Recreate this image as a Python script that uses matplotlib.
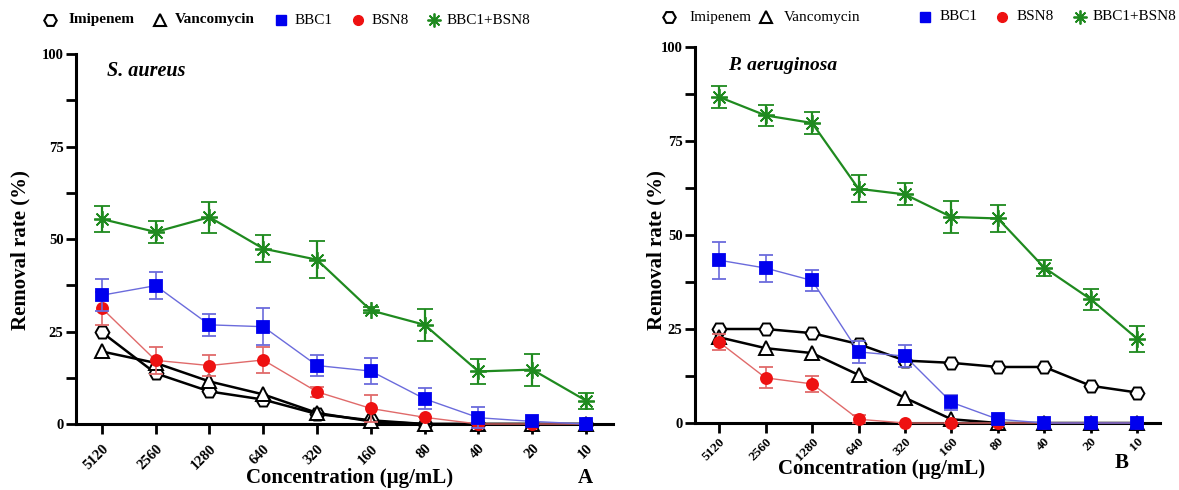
import matplotlib
matplotlib.use("Agg")
import matplotlib.pyplot as plt
from matplotlib.lines import Line2D
from matplotlib.ticker import MultipleLocator
import numpy as np

plt.rcParams['font.family'] = ['Liberation Serif', 'DejaVu Serif']

concentrations = ["5120", "2560", "1280", "640", "320", "160", "80", "40", "20", "10"]
legend_labels = ['Imipenem', 'Vancomycin', 'BBC1', 'BSN8', 'BBC1+BSN8']

# Panel A: S. aureus
imi_A = [24.8, 13.7, 8.8, 6.6, 2.7, 1.0, 0, 0, 0, 0]
van_A = [19.6, 16.5, 11.5, 8.0, 3.0, 0.7, 0, 0, 0, 0]
bbc1_A = [34.8, 37.4, 26.8, 26.3, 15.8, 14.3, 6.8, 1.7, 0.7, 0]
bbc1_A_err = [4.3, 3.6, 2.9, 5.0, 2.8, 3.5, 2.8, 2.8, 0, 0]
bsn8_A = [31.3, 17.2, 15.8, 17.3, 8.7, 4.2, 1.8, 0, 0, 0]
bsn8_A_err = [4.5, 3.7, 2.8, 3.6, 1.4, 3.6, 0, 0, 0, 0]
combo_A = [55.4, 51.9, 55.9, 47.4, 44.4, 30.7, 26.8, 14.2, 14.7, 6.3]
combo_A_err = [3.6, 2.9, 4.2, 3.6, 5.0, 0.8, 4.3, 3.5, 4.3, 2.2]

# Panel B: P. aeruginosa
imi_B = [25.0, 25.0, 23.9, 21.0, 16.6, 16.0, 14.9, 14.9, 9.9, 8.1]
van_B = [22.8, 19.9, 18.6, 12.8, 6.7, 1.0, 0, 0, 0, 0]
bbc1_B = [43.3, 41.2, 37.9, 18.9, 17.8, 5.5, 1.0, 0, 0, 0]
bbc1_B_err = [4.9, 3.6, 2.8, 3.0, 3.0, 2.0, 0, 0, 0, 0]
bsn8_B = [21.5, 12.0, 10.4, 1.0, 0, 0, 0, 0, 0, 0]
bsn8_B_err = [2.2, 2.8, 2.1, 1.0, 0, 0, 0, 0, 0, 0]
combo_B = [86.7, 81.8, 79.8, 62.3, 60.8, 54.8, 54.4, 41.3, 32.9, 22.4]
combo_B_err = [2.9, 2.75, 2.9, 3.6, 2.9, 4.2, 3.5, 2.1, 2.8, 3.5]

GREEN = '#1f8a1f'
BLUE = '#0000ee'
BLUE_L = '#6b6bdc'
RED = '#ee1111'
RED_L = '#e06a6a'
STAR = (8, 2, 0)

W, H = 1179, 490
fig = plt.figure(figsize=(W / 100, H / 100), dpi=100)
axA = fig.add_axes([76/W, 1-424/H, (613-76)/W, (424-54)/H])
axB = fig.add_axes([695/W, 1-423/H, (1160-695)/W, (423-47)/H])


def draw(ax, imi, van, bbc1, bbc1e, bsn8, bsn8e, combo, comboe, xl, tfs, tpad):
    x = np.arange(len(concentrations))
    ax.plot(x, imi, color='black', lw=1.8, marker='H', ms=10, mfc='white',
            mec='black', mew=1.4, clip_on=False, zorder=3)
    ax.plot(x, van, color='black', lw=1.8, marker='^', ms=10, mfc='white',
            mec='black', mew=1.4, clip_on=False, zorder=3)
    series = [
        (bsn8, bsn8e, RED_L, RED, 'o', 8, 1.0, 5, 4),
        (bbc1, bbc1e, BLUE_L, BLUE, 's', 8, 1.0, 5, 5),
        (combo, comboe, GREEN, GREEN, STAR, 12, 1.6, 6, 6),
    ]
    for y, ye, lc, mc, mk, ms, lw, cap, z in series:
        e = ax.errorbar(x, y, yerr=ye, color=lc, lw=lw, marker=mk, ms=ms,
                        mfc=mc, mec=mc, mew=1.3, ecolor=lc, elinewidth=max(lw, 1.2),
                        capsize=cap, capthick=max(lw, 1.2), clip_on=False, zorder=z)
        for a in e.lines[2] + e.lines[1]:
            a.set_clip_on(False)
    ax.set_xlim(*xl)
    ax.set_ylim(0, 100)
    ax.yaxis.set_major_locator(MultipleLocator(25))
    ax.yaxis.set_minor_locator(MultipleLocator(12.5))
    ax.set_xticks(x)
    ax.set_xticklabels(concentrations, rotation=45, ha='right', rotation_mode='anchor',
                       fontsize=tfs, fontweight='bold')
    for lab in ax.get_yticklabels():
        lab.set_fontweight('bold')
        lab.set_fontsize(10.5)
    for s in ['top', 'right']:
        ax.spines[s].set_visible(False)
    for s in ['left', 'bottom']:
        ax.spines[s].set_linewidth(2.2)
    ax.tick_params(axis='both', which='major', direction='out', length=7, width=2.0, pad=2)
    ax.tick_params(axis='y', which='minor', direction='out', length=7, width=2.0)
    ax.tick_params(axis='x', which='major', pad=tpad)
    ax.set_ylabel('Removal rate (%)', fontsize=15, fontweight='bold')


draw(axA, imi_A, van_A, bbc1_A, bbc1_A_err, bsn8_A, bsn8_A_err, combo_A, combo_A_err,
     (-0.48, 9.5), 10.5, 6)
draw(axB, imi_B, van_B, bbc1_B, bbc1_B_err, bsn8_B, bsn8_B_err, combo_B, combo_B_err,
     (-0.52, 9.49), 9.5, 2)

axA.yaxis.set_label_coords(-0.085, 0.47)
axB.yaxis.set_label_coords(-0.062, 0.46)

axA.text(0.058, 0.955, 'S. aureus', transform=axA.transAxes, fontsize=14.5,
         fontweight='bold', fontstyle='italic', va='center', ha='left')
axB.text(0.07, 0.95, 'P. aeruginosa', transform=axB.transAxes, fontsize=14,
         fontweight='bold', fontstyle='italic', va='center', ha='left')

fig.text(350/W, 1-478/H, 'Concentration (µg/mL)', fontsize=15, fontweight='bold',
         ha='center', va='center')
fig.text(882/W, 1-469/H, 'Concentration (µg/mL)', fontsize=15, fontweight='bold',
         ha='center', va='center')
fig.text(585/W, 1-478/H, 'A', fontsize=15, fontweight='bold', ha='center', va='center')
fig.text(1122/W, 1-463/H, 'B', fontsize=15, fontweight='bold', ha='center', va='center')

# Legends (marker x, text x) in pixels
marker_styles = [
    dict(marker='H', ms=9, mfc='white', mec='black', mew=1.5),
    dict(marker='^', ms=9, mfc='white', mec='black', mew=1.5),
    dict(marker='s', ms=7, mfc=BLUE, mec=BLUE),
    dict(marker='o', ms=7, mfc=RED, mec=RED),
    dict(marker=STAR, ms=10, mfc=GREEN, mec=GREEN, mew=1.3),
]


def legend(ypx, mk_x, tx_x, bold_first):
    for i, (mx, tx, lab, st) in enumerate(zip(mk_x, tx_x, legend_labels, marker_styles)):
        fig.add_artist(Line2D([mx / W], [1 - ypx / H], ls='none',
                              transform=fig.transFigure, **st))
        fw = 'bold' if (bold_first and i < 2) else 'normal'
        fig.text(tx / W, 1 - ypx / H, lab, fontsize=11, fontweight=fw,
                 ha='left', va='center')


legend(20, [50, 160, 281, 358, 434], [69, 175, 295, 372, 447], True)
legend(17, [669, 766, 925, 1002, 1080], [689, 784, 940, 1017, 1093], False)

fig.savefig('out.png', dpi=100)
